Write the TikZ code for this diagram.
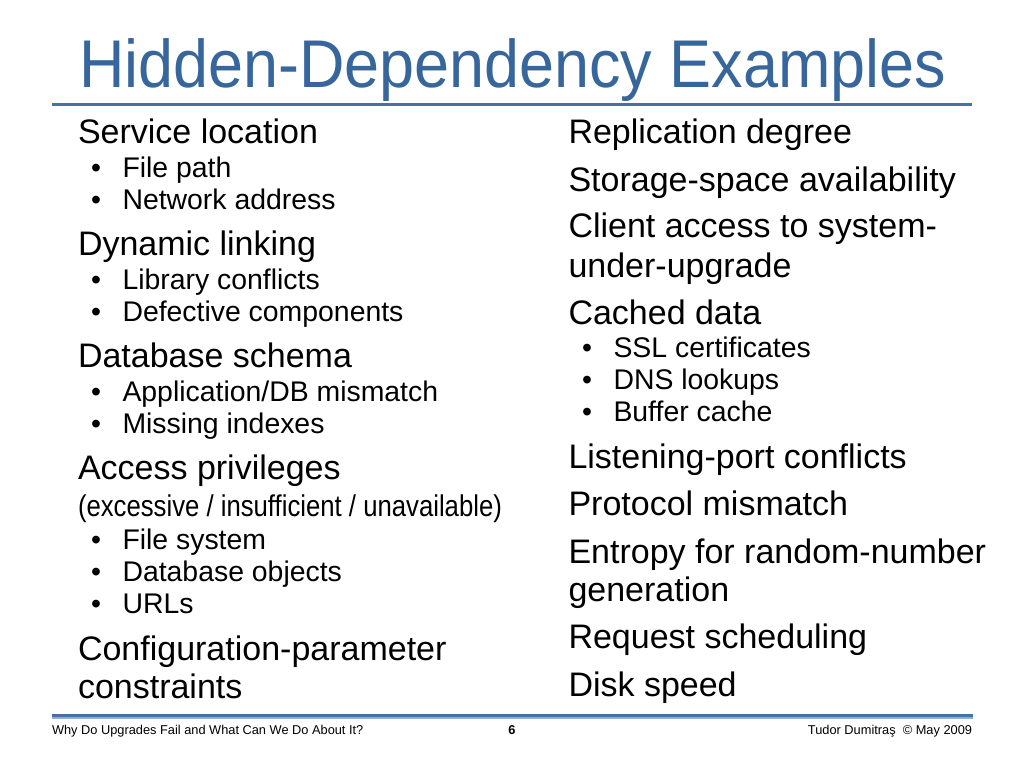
\documentclass[tikz,border=0pt]{standalone}
\usepackage{fontspec}
\setmainfont{Liberation Sans}
\usepackage{graphicx}
\definecolor{titleblue}{RGB}{54,102,156}
\definecolor{ruleblue}{RGB}{72,112,162}
\definecolor{lightrule}{RGB}{145,175,212}
\tikzset{
  txt/.style={anchor=base west, inner sep=0pt, outer sep=0pt, text=black},
  main/.style={txt, font=\fontsize{34}{40}\selectfont},
  sub/.style={txt, font=\fontsize{28.4}{32}\selectfont},
  bul/.style={txt, font=\fontsize{28.4}{32}\selectfont},
  foot/.style={txt, font=\fontsize{12.8}{15}\selectfont},
}
\begin{document}
\begin{tikzpicture}[x=1pt,y=-1pt]
\useasboundingbox (0,0) rectangle (1024,768);
\fill[white] (0,0) rectangle (1024,768);
% title
\node[txt, text=titleblue, font=\fontsize{67.5}{70}\selectfont] (title) at (79,87) {\scalebox{0.932}[1]{Hidden-Dependency Examples}};
\draw[ruleblue, line width=3pt] (52,104) coordinate (r1a) -- (972,104) coordinate (r1b);
% left column
\node[main] (l1) at (78,143) {Service location};
\node[bul] (l1b1) at (91,177) {•}; \node[sub] (l1s1) at (122.5,177) {File path};
\node[bul] (l1b2) at (91,209) {•}; \node[sub] (l1s2) at (122.5,209) {Network address};
\node[main] (l2) at (78,255) {Dynamic linking};
\node[bul] (l2b1) at (91,289) {•}; \node[sub] (l2s1) at (122.5,289) {Library conflicts};
\node[bul] (l2b2) at (91,321) {•}; \node[sub] (l2s2) at (122.5,321) {Defective components};
\node[main] (l3) at (78,367) {Database schema};
\node[bul] (l3b1) at (91,401) {•}; \node[sub] (l3s1) at (122.5,401) {Application/DB mismatch};
\node[bul] (l3b2) at (91,433) {•}; \node[sub] (l3s2) at (122.5,433) {Missing indexes};
\node[main] (l4) at (78,479) {Access privileges};
\node[txt, font=\fontsize{30}{34}\selectfont] (l4p) at (78,516) {\scalebox{0.857}[1]{(excessive / insufficient / unavailable)}};
\node[bul] (l4b1) at (91,549) {•}; \node[sub] (l4s1) at (122.5,549) {File system};
\node[bul] (l4b2) at (91,581) {•}; \node[sub] (l4s2) at (122.5,581) {Database objects};
\node[bul] (l4b3) at (91,613) {•}; \node[sub] (l4s3) at (122.5,613) {URLs};
\node[main] (l5) at (78,660) {Configuration-parameter};
\node[main] (l5b) at (78,698) {constraints};
% right column
\node[main] (r1) at (568.5,143) {Replication degree};
\node[main] (r2) at (568.5,191) {Storage-space availability};
\node[main] (r3) at (568.5,237) {Client access to system-};
\node[main] (r3b) at (568.5,277) {under-upgrade};
\node[main] (r4) at (568.5,324) {Cached data};
\node[bul] (r4b1) at (582,357) {•}; \node[sub] (r4s1) at (613.5,357) {SSL certificates};
\node[bul] (r4b2) at (582,389) {•}; \node[sub] (r4s2) at (613.5,389) {DNS lookups};
\node[bul] (r4b3) at (582,421) {•}; \node[sub] (r4s3) at (613.5,421) {Buffer cache};
\node[main] (r5) at (568.5,468) {Listening-port conflicts};
\node[main] (r6) at (568.5,515) {Protocol mismatch};
\node[main] (r7) at (568.5,563) {Entropy for random-number};
\node[main] (r7b) at (568.5,601) {generation};
\node[main] (r8) at (568.5,648) {Request scheduling};
\node[main] (r9) at (568.5,696) {Disk speed};
% footer
\draw[ruleblue, line width=3pt] (52,715.5) coordinate (f1a) -- (973,715.5) coordinate (f1b);
\draw[lightrule, line width=2pt] (52,718.2) coordinate (f2a) -- (973,718.2) coordinate (f2b);
\node[foot] (fl) at (52,734) {Why Do Upgrades Fail and What Can We Do About It?};
\node[foot, anchor=base, font=\fontsize{12.8}{15}\selectfont\bfseries] (fn) at (512,734) {6};
\node[foot, anchor=base east] (fr) at (972,734) {Tudor Dumitraş \ © May 2009};
\end{tikzpicture}
\end{document}
